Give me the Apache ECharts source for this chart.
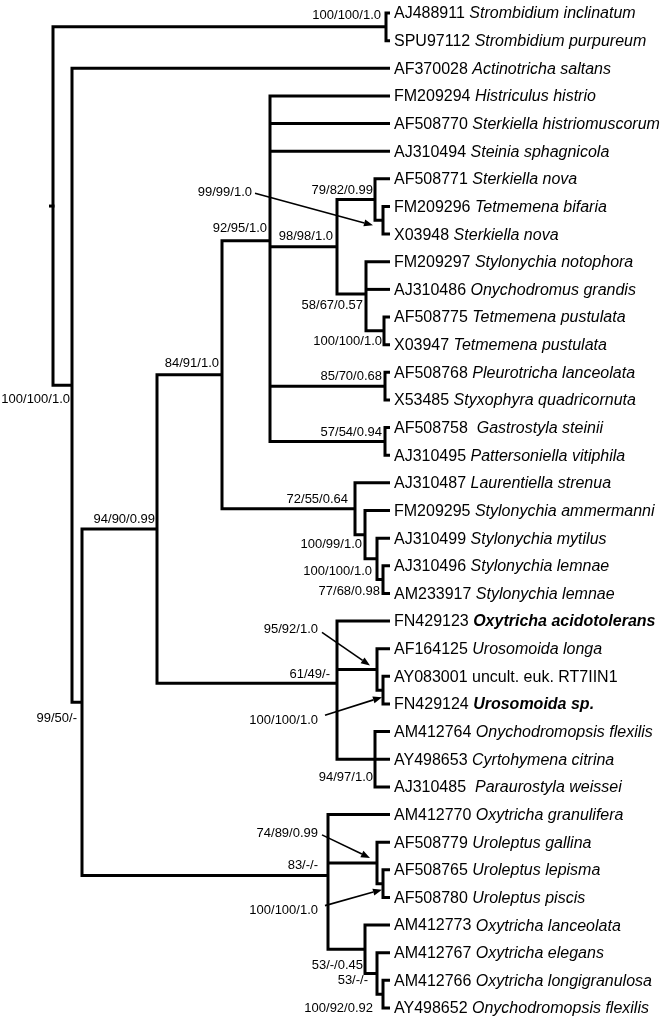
<!DOCTYPE html>
<html>
<head>
<meta charset="utf-8">
<script src="https://cdn.jsdelivr.net/npm/echarts@6/dist/echarts.min.js"></script>
<style>
  html, body { margin: 0; padding: 0; background: #fff; }
  #tree { width: 666px; height: 1021px; }
</style>
</head>
<body>
<div id="tree"></div>
<script>
  // leaves, top to bottom
  const leafAcc = ['AJ488911', 'SPU97112', 'AF370028', 'FM209294', 'AF508770', 'AJ310494', 'AF508771',
    'FM209296', 'X03948', 'FM209297', 'AJ310486', 'AF508775', 'X03947', 'AF508768', 'X53485',
    'AF508758 ', 'AJ310495', 'AJ310487', 'FM209295', 'AJ310499', 'AJ310496', 'AM233917', 'FN429123',
    'AF164125', 'AY083001', 'FN429124', 'AM412764', 'AY498653', 'AJ310485 ', 'AM412770', 'AF508779',
    'AF508765', 'AF508780', 'AM412773', 'AM412767', 'AM412766', 'AY498652'];
  const leafName = ['Strombidium inclinatum', 'Strombidium purpureum', 'Actinotricha saltans',
    'Histriculus histrio', 'Sterkiella histriomuscorum', 'Steinia sphagnicola', 'Sterkiella nova',
    'Tetmemena bifaria', 'Sterkiella nova', 'Stylonychia notophora', 'Onychodromus grandis',
    'Tetmemena pustulata', 'Tetmemena pustulata', 'Pleurotricha lanceolata', 'Styxophyra quadricornuta',
    'Gastrostyla steinii', 'Pattersoniella vitiphila', 'Laurentiella strenua', 'Stylonychia ammermanni',
    'Stylonychia mytilus', 'Stylonychia lemnae', 'Stylonychia lemnae', 'Oxytricha acidotolerans',
    'Urosomoida longa', 'uncult. euk. RT7IIN1', 'Urosomoida sp.', 'Onychodromopsis flexilis',
    'Cyrtohymena citrina', 'Paraurostyla weissei', 'Oxytricha granulifera', 'Uroleptus gallina',
    'Uroleptus lepisma', 'Uroleptus piscis', 'Oxytricha lanceolata', 'Oxytricha elegans',
    'Oxytricha longigranulosa', 'Onychodromopsis flexilis'];
  // i = italic, b = bold italic, n = plain
  const leafFace = ['i', 'i', 'i', 'i', 'i', 'i', 'i', 'i', 'i', 'i', 'i', 'i', 'i', 'i', 'i', 'i', 'i',
    'i', 'i', 'i', 'i', 'i', 'b', 'i', 'n', 'b', 'i', 'i', 'i', 'i', 'i', 'i', 'i', 'i', 'i', 'i', 'i'];
  const leafDepth = 337;

  // internal nodes: depth from root, children (leaf index or node id), support
  const nodeId =      ['root', 'nStr', 'n72', 'n82', 'n157', 'n222', 'n270', 'n337', 'n375', 'n383a',
    'n366', 'n384b', 'n85', 'n57', 'nA', 'nB', 'nC', 'nD', 'nE', 'nF', 'nI', 'nG', 'nJ', 'nK', 'nM',
    'nL', 'nN', 'nO'];
  const nodeDepth =   [0, 333, 19, 29, 104, 169, 217, 284, 322, 330,
    313, 331, 332, 332, 302, 312, 324, 330, 284, 324, 330, 322, 275, 324, 330,
    312, 324, 330];
  const nodeKids = [
    ['nStr', 'n72'], [0, 1], [2, 'n82'], ['n157', 'nJ'], ['n222', 'nE'], ['n270', 'nA'],
    [3, 4, 5, 'n337', 'n85', 'n57'], ['n375', 'n366'], [6, 'n383a'], [7, 8],
    [9, 10, 'n384b'], [11, 12], [13, 14], [15, 16], [17, 'nB'], [18, 'nC'], [19, 'nD'], [20, 21],
    [22, 'nF', 'nG'], [23, 'nI'], [24, 25], [26, 27, 28], [29, 'nK', 'nL'], [30, 'nM'], [31, 32],
    [33, 'nN'], [34, 'nO'], [35, 36]];
  const nodeSupport = ['', '100/100/1.0', '100/100/1.0', '99/50/-', '94/90/0.99', '84/91/1.0',
    '92/95/1.0', '98/98/1.0', '79/82/0.99', '99/99/1.0', '58/67/0.57', '100/100/1.0', '85/70/0.68',
    '57/54/0.94', '72/55/0.64', '100/99/1.0', '100/100/1.0', '77/68/0.98', '61/49/-', '95/92/1.0',
    '100/100/1.0', '94/97/1.0', '83/-/-', '74/89/0.99', '100/100/1.0', '53/-/0.45', '53/-/-',
    '100/92/0.92'];
  const rootStub = -4;

  // label placement (pixel offsets from the node)
  const labelOffset = {
    nStr: [-5, -11], n72: [-2, 14], n82: [-5, 16], n157: [-2, -10], n222: [-3, -11],
    n270: [-3, -12], n337: [-4, -10], n375: [-2, -9], n366: [-3, 11], n384b: [-2, 11],
    n85: [-3, -10], n57: [-3, -9], nA: [-7, -9], nB: [-3, 10], nC: [-5, 13], nD: [-3, 12],
    nE: [-7, -9], nG: [-2, 18], nJ: [-10, -10], nL: [-2, 16], nN: [-9, 7], nO: [-10, 14],
    n383a: [-131, -28], nF: [-59, -40], nI: [-65, 30], nK: [-59, -29], nM: [-65, 27]
  };
  const arrowOffset = {
    n383a: [[-128, -27], [-10, 5]],
    nF: [[-55, -37], [-7, -4]],
    nI: [[-58, 25], [-1, 7]],
    nK: [[-55, -28], [-7, -5]],
    nM: [[-58, 22], [-1, 6]]
  };

  const FONT = '"Liberation Sans", Arial, Helvetica, sans-serif';

  const pos = {};
  function place(id) {
    if (typeof id === 'number') return [leafDepth, id];
    if (pos[id]) return pos[id];
    const k = nodeId.indexOf(id);
    const ys = nodeKids[k].map(c => place(c)[1]);
    pos[id] = [nodeDepth[k], ys.reduce((a, b) => a + b, 0) / ys.length];
    return pos[id];
  }
  nodeId.forEach(place);

  const stroke = { stroke: '#000', lineWidth: 3, fill: null, lineJoin: 'miter', lineCap: 'butt' };

  function renderBranch(params, api) {
    const k = api.value(2);
    const id = nodeId[k];
    const p = api.coord(pos[id]);
    const pts = nodeKids[k].map(c => api.coord(place(c)));
    const a = pts[0], b = pts[pts.length - 1];
    const children = [{
      type: 'polyline',
      shape: { points: [[a[0], a[1]], [p[0], a[1]], [p[0], b[1]], [b[0], b[1]]] },
      style: stroke
    }];
    pts.slice(1, -1).forEach(m => {
      children.push({ type: 'line', shape: { x1: p[0], y1: m[1], x2: m[0], y2: m[1] }, style: stroke });
    });
    if (id === 'root') {
      const s = api.coord([rootStub, pos[id][1]]);
      children.push({ type: 'line', shape: { x1: s[0], y1: s[1], x2: p[0] + 1.5, y2: p[1] }, style: stroke });
    }
    return { type: 'group', children };
  }

  function renderLeaf(params, api) {
    const i = api.value(2);
    const p = api.coord([api.value(0), api.value(1)]);
    return {
      type: 'text',
      style: {
        x: p[0] + 4, y: p[1] + 1,
        text: '{a|' + leafAcc[i] + ' }{' + leafFace[i] + '|' + leafName[i] + '}',
        verticalAlign: 'middle', align: 'left',
        rich: {
          a: { fontFamily: FONT, fontSize: 16, fill: '#000' },
          i: { fontFamily: FONT, fontSize: 16, fontStyle: 'italic', fill: '#000' },
          b: { fontFamily: FONT, fontSize: 16, fontStyle: 'italic', fontWeight: 'bold', fill: '#000' },
          n: { fontFamily: FONT, fontSize: 16, fill: '#000' }
        }
      }
    };
  }

  function renderSupport(params, api) {
    const k = api.value(2);
    const id = nodeId[k];
    const p = api.coord(pos[id]);
    const off = labelOffset[id];
    const children = [{
      type: 'text',
      style: {
        x: p[0] + off[0], y: p[1] + off[1], text: nodeSupport[k],
        align: 'right', verticalAlign: 'middle',
        fontFamily: FONT, fontSize: 13, fill: '#000'
      }
    }];
    const ar = arrowOffset[id];
    if (ar) {
      const x1 = p[0] + ar[0][0], y1 = p[1] + ar[0][1];
      const x2 = p[0] + ar[1][0], y2 = p[1] + ar[1][1];
      const len = Math.hypot(x2 - x1, y2 - y1);
      const ux = (x2 - x1) / len, uy = (y2 - y1) / len;
      const hl = 9, hw = 3.5;
      const bx = x2 - ux * hl, by = y2 - uy * hl;
      children.push({ type: 'line', shape: { x1, y1, x2: bx, y2: by }, style: { stroke: '#000', lineWidth: 1.6 } });
      children.push({
        type: 'polygon',
        shape: { points: [[x2, y2], [bx - uy * hw, by + ux * hw], [bx + uy * hw, by - ux * hw]] },
        style: { fill: '#000' }
      });
    }
    return { type: 'group', children };
  }

  const chart = echarts.init(document.getElementById('tree'));
  chart.setOption({
    animation: false,
    backgroundColor: '#fff',
    grid: { left: 48, top: 13, width: 342, height: 995 },
    xAxis: { type: 'value', min: -5, max: 337, show: false },
    yAxis: { type: 'value', min: 0, max: 36, inverse: true, show: false },
    series: [
      {
        type: 'custom', name: 'branches', renderItem: renderBranch,
        data: nodeId.map((id, k) => [pos[id][0], pos[id][1], k]),
        encode: { x: 0, y: 1 }, clip: false, silent: true
      },
      {
        type: 'custom', name: 'leaves', renderItem: renderLeaf,
        data: leafAcc.map((a, i) => [leafDepth, i, i]),
        encode: { x: 0, y: 1 }, clip: false, silent: true
      },
      {
        type: 'custom', name: 'support', renderItem: renderSupport,
        data: nodeId.map((id, k) => [pos[id][0], pos[id][1], k]).filter(d => nodeSupport[d[2]]),
        encode: { x: 0, y: 1 }, clip: false, silent: true
      }
    ]
  });
</script>
</body>
</html>
